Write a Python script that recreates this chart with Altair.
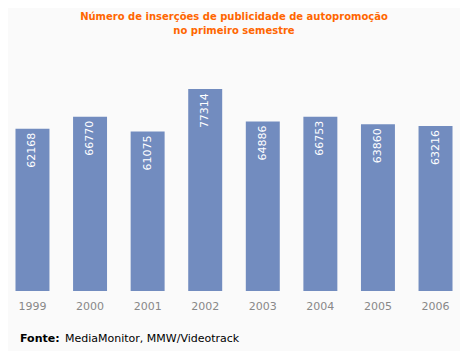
import altair as alt
import pandas as pd

years = ["1999", "2000", "2001", "2002", "2003", "2004", "2005", "2006"]
values = [62168, 66770, 61075, 77314, 64886, 66753, 63860, 63216]
title_lines = ["Número de inserções de publicidade de autopromoção", "no primeiro semestre"]
source_label = "Fonte:"
source_text = "MediaMonitor, MMW/Videotrack"

df = pd.DataFrame({"ano": years, "valor": values})

FONT = "DejaVu Sans"

x = alt.X("ano:N", title=None,
          scale=alt.Scale(paddingInner=0.41, paddingOuter=0.13),
          axis=alt.Axis(labelAngle=0, domain=False, ticks=False, labelPadding=9,
                        labelColor="#888888", labelFontSize=11, labelFont=FONT))
y = alt.Y("valor:Q", title=None, scale=alt.Scale(domain=[0, 90000], nice=False),
          axis=None)

base = alt.Chart(df)
bars = base.mark_bar(color="#728CBF").encode(x=x, y=y)
labels = base.mark_text(angle=270, align="right", baseline="middle", dx=-4,
                        color="white", fontSize=11, font=FONT).encode(
    x=x, y=y, text="valor:N")

foot1 = alt.Chart(pd.DataFrame({"t": [source_label]})).mark_text(
    align="left", baseline="middle", fontSize=11, font=FONT, fontWeight="bold",
    color="#000000").encode(x=alt.value(12), y=alt.value(283), text="t:N")
foot2 = alt.Chart(pd.DataFrame({"t": [source_text]})).mark_text(
    align="left", baseline="middle", fontSize=11, font=FONT,
    color="#000000").encode(x=alt.value(57), y=alt.value(283), text="t:N")

chart = alt.layer(bars, labels, foot1, foot2).properties(
    width=452, height=235,
    title=alt.TitleParams(title_lines, anchor="middle", color="#FF6600",
                          fontSize=10, font=FONT, fontWeight="bold",
                          lineHeight=14, offset=20),
    background="#FAFAFA",
    autosize=alt.AutoSizeParams(type="none"),
    padding={"top": 48, "left": 0, "right": 0, "bottom": 60},
).configure_view(stroke=None)

chart.save("out.html", embed_options={"renderer": "svg", "actions": False})
